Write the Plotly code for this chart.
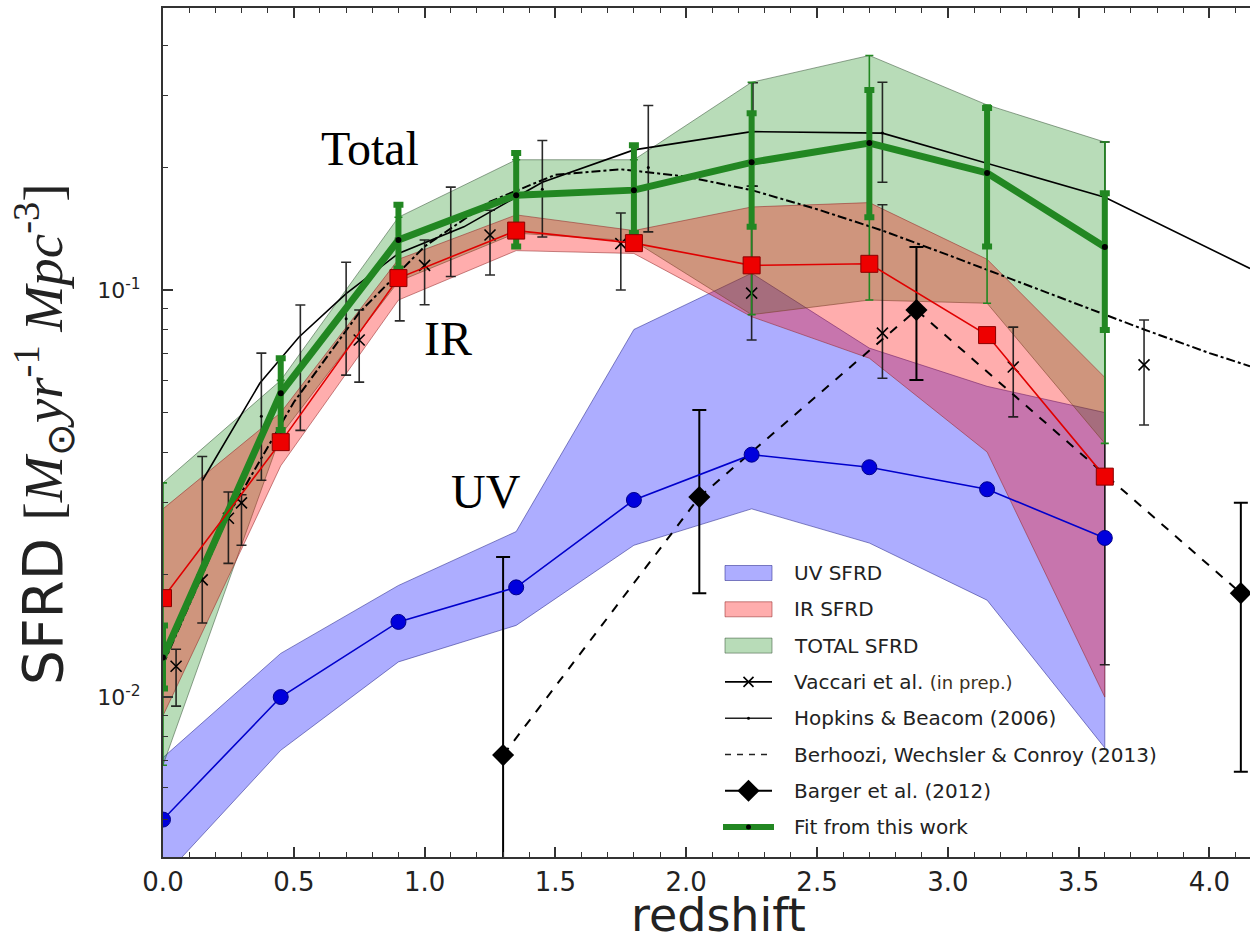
import math
import plotly.graph_objects as go

# ---------------- binned SFRD estimates (Msun / yr / Mpc^3) ----------------
z_bins = [0.0, 0.45, 0.9, 1.35, 1.8, 2.25, 2.7, 3.15, 3.6]

uv_sfrd = [0.0050, 0.0100, 0.0153, 0.0186, 0.0305, 0.0394, 0.0367, 0.0324, 0.0246]
uv_upper = [0.0071, 0.0128, 0.0188, 0.0255, 0.080, 0.110, 0.072, 0.058, 0.050]
uv_lower = [0.0036, 0.0074, 0.0122, 0.0150, 0.0236, 0.0290, 0.0239, 0.0173, 0.0075]

ir_sfrd = [0.0175, 0.0423, 0.107, 0.140, 0.1304, 0.115, 0.116, 0.0775, 0.0348]
ir_upper = [0.029, 0.050, 0.119, 0.153, 0.140, 0.160, 0.164, 0.119, 0.061]
ir_lower = [0.0090, 0.037, 0.0945, 0.125, 0.123, 0.086, 0.068, 0.040, 0.010]

total_upper = [0.0336, 0.060, 0.151, 0.209, 0.209, 0.324, 0.377, 0.285, 0.231]
total_lower = [0.0068, 0.044, 0.105, 0.138, 0.132, 0.087, 0.0945, 0.0928, 0.042]

fit_sfrd = [0.0125, 0.0558, 0.1327, 0.171, 0.176, 0.206, 0.2297, 0.194, 0.1276]
fit_lo = [0.0105, 0.0453, 0.113, 0.128, 0.138, 0.143, 0.151, 0.128, 0.0798]
fit_hi = [0.0150, 0.068, 0.162, 0.217, 0.227, 0.272, 0.310, 0.280, 0.173]

# ---------------- literature compilations ----------------
vac_z = [0.05, 0.15, 0.25, 0.30, 0.75, 1.00, 1.25, 1.75, 2.25, 2.75, 3.25, 3.75]
vac_v = [0.0119, 0.0194, 0.0275, 0.0300, 0.0754, 0.115, 0.1365, 0.130, 0.0983, 0.0784, 0.0647, 0.0655]
vac_lo = [0.0095, 0.0152, 0.0213, 0.0236, 0.0594, 0.092, 0.1089, 0.100, 0.0754, 0.0607, 0.0488, 0.0466]
vac_hi = [0.0131, 0.0390, 0.0319, 0.0314, 0.0893, 0.1327, 0.157, 0.1546, 0.180, 0.162, 0.0811, 0.0844]

hop_line_z = [0.15, 0.37, 0.52, 0.70, 0.90, 1.15, 1.45, 1.80, 2.25, 2.75, 3.60, 4.155]
hop_line_v = [0.034, 0.059, 0.0767, 0.098, 0.123, 0.143, 0.184, 0.221, 0.245, 0.243, 0.169, 0.113]

hop_pt_z = [0.376, 0.525, 0.70, 0.905, 1.10, 1.45, 1.855, 2.255, 2.75, 3.60]
hop_pt_v = [0.049, 0.065, 0.085, 0.106, 0.139, 0.177, 0.200, 0.245, 0.243, 0.169]
hop_pt_lo = [0.0341, 0.0452, 0.0618, 0.084, 0.108, 0.135, 0.139, 0.180, 0.184, 0.012]
hop_pt_hi = [0.070, 0.0919, 0.117, 0.134, 0.179, 0.233, 0.284, 0.323, 0.324, 0.231]

beh_z = [0.0, 0.25, 0.5, 0.75, 1.0, 1.25, 1.5, 1.75, 2.0, 2.25, 2.5, 2.75,
         3.0, 3.25, 3.5, 3.75, 4.0, 4.155]
beh_v = [0.012, 0.028, 0.053, 0.088, 0.128, 0.165, 0.192, 0.198, 0.190, 0.176,
         0.158, 0.140, 0.122, 0.106, 0.092, 0.080, 0.070, 0.065]

bar_z = [1.30, 2.05, 2.88, 4.12]
bar_v = [0.0072, 0.031, 0.0893, 0.018]
bar_lo = [0.0010, 0.018, 0.0601, 0.00655]
bar_hi = [0.0221, 0.0507, 0.1275, 0.030]

# ---------------- axes ----------------
x_ticks = [0.0, 0.5, 1.0, 1.5, 2.0, 2.5, 3.0, 3.5, 4.0]
x_tick_text = ["0.0", "0.5", "1.0", "1.5", "2.0", "2.5", "3.0", "3.5", "4.0"]
y_ticks = [0.01, 0.1]
y_tick_text = ["10<sup>-2</sup>", "10<sup>-1</sup>"]
y_minor = [m * d for d in (0.001, 0.01, 0.1) for m in range(2, 10)]

legend_labels = [
    "UV SFRD",
    "IR SFRD",
    "TOTAL SFRD",
    "Vaccari et al. <span style='font-size:18px;color:#3a3020'>(in prep.)</span>",
    "Hopkins &amp; Beacom (2006)",
    "Berhoozi, Wechsler &amp; Conroy (2013)",
    "Barger et al. (2012)",
    "Fit from this work",
]

# ---------------- styles ----------------
UV_FILL = "rgba(0,0,255,0.32)"
IR_FILL = "rgba(255,0,0,0.32)"
TOT_FILL = "rgba(0,128,0,0.28)"
UV_EDGE = "rgba(40,40,140,0.55)"
IR_EDGE = "rgba(150,40,40,0.55)"
TOT_EDGE = "rgba(60,90,60,0.55)"
FIT_GREEN = "rgb(34,135,34)"
SANS = "DejaVu Sans"
SERIF = "Liberation Serif"

# geometry of the figure (pixels)
W, H = 1250, 944
PLOT_L, PLOT_R, PLOT_T, PLOT_B = 163, 1250, 8, 857


def above(vals, hi):
    return [h - v for v, h in zip(vals, hi)]


def below(vals, lo):
    return [v - l for v, l in zip(vals, lo)]


def band(x, lo, hi, fill, edge):
    return go.Scatter(
        x=list(x) + list(x)[::-1], y=list(hi) + list(lo)[::-1],
        mode="lines", fill="toself", fillcolor=fill,
        line=dict(color=edge, width=1), hoverinfo="skip", showlegend=False)


def paper_x(px):
    return (px - PLOT_L) / (PLOT_R - PLOT_L)


def paper_y(py):
    return (PLOT_B - py) / (PLOT_B - PLOT_T)


fig = go.Figure()

# confidence bands: blue under green, red on top
fig.add_trace(band(z_bins, uv_lower, uv_upper, UV_FILL, UV_EDGE))
fig.add_trace(band(z_bins, total_lower, total_upper, TOT_FILL, TOT_EDGE))
fig.add_trace(band(z_bins, ir_lower, ir_upper, IR_FILL, IR_EDGE))

# Behroozi et al. model curve
fig.add_trace(go.Scatter(x=beh_z, y=beh_v, mode="lines",
                         line=dict(color="black", width=2, dash="dashdot"),
                         showlegend=False))
# Hopkins & Beacom fit and compilation points
fig.add_trace(go.Scatter(x=hop_line_z, y=hop_line_v, mode="lines",
                         line=dict(color="black", width=1.6), showlegend=False))
fig.add_trace(go.Scatter(
    x=hop_pt_z, y=hop_pt_v, mode="markers",
    marker=dict(size=3, color="black"),
    error_y=dict(type="data", symmetric=False,
                 array=above(hop_pt_v, hop_pt_hi),
                 arrayminus=below(hop_pt_v, hop_pt_lo),
                 color="rgba(20,20,20,0.9)", thickness=1.6, width=5),
    showlegend=False))
# Vaccari et al.
fig.add_trace(go.Scatter(
    x=vac_z, y=vac_v, mode="markers",
    marker=dict(symbol="x-thin", size=11, line=dict(color="black", width=1.6)),
    error_y=dict(type="data", symmetric=False,
                 array=above(vac_v, vac_hi), arrayminus=below(vac_v, vac_lo),
                 color="rgba(20,20,20,0.9)", thickness=1.6, width=5),
    showlegend=False))
# Barger et al.
fig.add_trace(go.Scatter(
    x=bar_z, y=bar_v, mode="lines+markers",
    line=dict(color="black", width=2, dash="dash"),
    marker=dict(symbol="diamond", size=17, color="black"),
    error_y=dict(type="data", symmetric=False,
                 array=above(bar_v, bar_hi), arrayminus=below(bar_v, bar_lo),
                 color="black", thickness=2, width=7),
    showlegend=False))

# fit: thin bars spanning the total band, thick bars for the fit itself
fig.add_trace(go.Scatter(
    x=z_bins, y=fit_sfrd, mode="markers",
    marker=dict(size=1, color="rgba(0,0,0,0)"),
    error_y=dict(type="data", symmetric=False,
                 array=above(fit_sfrd, total_upper),
                 arrayminus=below(fit_sfrd, total_lower),
                 color=FIT_GREEN, thickness=1.6, width=4),
    showlegend=False))
fig.add_trace(go.Scatter(
    x=z_bins, y=fit_sfrd, mode="lines+markers",
    line=dict(color=FIT_GREEN, width=7),
    marker=dict(size=6, color="black"),
    error_y=dict(type="data", symmetric=False,
                 array=above(fit_sfrd, fit_hi), arrayminus=below(fit_sfrd, fit_lo),
                 color=FIT_GREEN, thickness=6, width=5),
    showlegend=False))

# UV and IR estimates
fig.add_trace(go.Scatter(x=z_bins, y=uv_sfrd, mode="lines+markers",
                         line=dict(color="#0000cc", width=1.6),
                         marker=dict(symbol="circle", size=15, color="#0000dd",
                                     line=dict(color="#00008a", width=1)),
                         showlegend=False))
fig.add_trace(go.Scatter(x=z_bins, y=ir_sfrd, mode="lines+markers",
                         line=dict(color="#e00000", width=1.6),
                         marker=dict(symbol="square", size=17, color="#ee0000",
                                     line=dict(color="#8a0000", width=1)),
                         showlegend=False))

# ---------------- legend (drawn on a pixel-unit overlay) ----------------
LEG_X0, LEG_X1, LEG_TX = 725, 772, 792
LEG_Y0, LEG_DY, SW_H = 573, 36.3, 15
LX = dict(xaxis="x2", yaxis="y2", hoverinfo="skip", showlegend=False)
leg_rows = [LEG_Y0 + i * LEG_DY for i in range(len(legend_labels))]
xm = (LEG_X0 + LEG_X1) / 2

for yy, fill, edge in zip(leg_rows[:3], [UV_FILL, IR_FILL, TOT_FILL],
                          [UV_EDGE, IR_EDGE, TOT_EDGE]):
    fig.add_trace(go.Scatter(
        x=[LEG_X0, LEG_X1, LEG_X1, LEG_X0, LEG_X0],
        y=[yy - SW_H / 2, yy - SW_H / 2, yy + SW_H / 2, yy + SW_H / 2, yy - SW_H / 2],
        mode="lines", fill="toself", fillcolor=fill,
        line=dict(color=edge, width=1), **LX))

fig.add_trace(go.Scatter(x=[LEG_X0, LEG_X1], y=[leg_rows[3]] * 2, mode="lines",
                         line=dict(color="black", width=1.6), **LX))
fig.add_trace(go.Scatter(x=[xm], y=[leg_rows[3]], mode="markers",
                         marker=dict(symbol="x-thin", size=10,
                                     line=dict(color="black", width=1.6)), **LX))
fig.add_trace(go.Scatter(x=[LEG_X0, LEG_X1], y=[leg_rows[4]] * 2, mode="lines",
                         line=dict(color="#222", width=1.6), **LX))
fig.add_trace(go.Scatter(x=[xm], y=[leg_rows[4]], mode="markers",
                         marker=dict(size=3, color="black"), **LX))
fig.add_trace(go.Scatter(x=[LEG_X0, LEG_X1], y=[leg_rows[5]] * 2, mode="lines",
                         line=dict(color="#222", width=1.6, dash="6px,6px"), **LX))
fig.add_trace(go.Scatter(x=[LEG_X0, LEG_X1], y=[leg_rows[6]] * 2, mode="lines",
                         line=dict(color="black", width=2), **LX))
fig.add_trace(go.Scatter(x=[xm], y=[leg_rows[6]], mode="markers",
                         marker=dict(symbol="diamond", size=17, color="black"), **LX))
fig.add_trace(go.Scatter(x=[LEG_X0 - 2, LEG_X1 + 2], y=[leg_rows[7]] * 2, mode="lines",
                         line=dict(color=FIT_GREEN, width=6), **LX))
fig.add_trace(go.Scatter(x=[xm], y=[leg_rows[7]], mode="markers",
                         marker=dict(size=5, color="black"), **LX))

annotations = []
for yy, lab in zip(leg_rows, legend_labels):
    annotations.append(dict(
        x=LEG_TX, y=yy, xref="x2", yref="y2", text=lab, showarrow=False,
        xanchor="left", yanchor="middle",
        font=dict(family=SANS, size=20, color="#222")))

# component labels
for txt, zx, yv in [("Total", 0.79, 0.223), ("IR", 1.09, 0.076), ("UV", 1.235, 0.032)]:
    annotations.append(dict(x=zx, y=math.log10(yv), xref="x", yref="y",
                            text=txt, showarrow=False,
                            font=dict(family=SERIF, size=48, color="black")))

# axis titles
annotations.append(dict(
    x=paper_x(718), y=paper_y(944),
    xref="paper", yref="paper", text="redshift", showarrow=False,
    xanchor="center", yanchor="bottom",
    font=dict(family=SANS, size=46, color="#222")))
annotations.append(dict(
    x=paper_x(43), y=paper_y(434),
    xref="paper", yref="paper", textangle=-90, showarrow=False,
    xanchor="center", yanchor="middle",
    text=("SFRD <span style='font-family:Liberation Serif'>[<i>M</i><sub>\u2299</sub>"
          "<i>yr</i><sup>-1</sup> <i>Mpc</i><sup>-3</sup>]</span>"),
    font=dict(family=SANS, size=55, color="#222")))

axis_common = dict(showgrid=False, zeroline=False, showline=True,
                   linecolor="#333", linewidth=2, ticks="inside", ticklen=10,
                   tickwidth=1.5, tickcolor="#333")

fig.update_layout(
    width=W, height=H,
    margin=dict(l=PLOT_L, r=W - PLOT_R, t=PLOT_T, b=H - PLOT_B),
    paper_bgcolor="white", plot_bgcolor="white",
    showlegend=False,
    xaxis=dict(range=[0, 4.155], tickvals=x_ticks, ticktext=x_tick_text,
               mirror="ticks", ticklabelstandoff=1,
               tickfont=dict(family=SANS, size=26, color="#222"),
               minor=dict(ticks="inside", ticklen=5, tickwidth=1.2,
                          tickcolor="#333", dtick=0.1, tick0=0),
               **axis_common),
    yaxis=dict(type="log", range=[-2.393, -0.307], tickvals=y_ticks,
               ticktext=y_tick_text, mirror=False, ticklabelstandoff=16,
               tickfont=dict(family=SANS, size=22, color="#222"),
               minor=dict(ticks="inside", ticklen=5, tickwidth=1.2,
                          tickcolor="#333", tickmode="array", tickvals=y_minor),
               **axis_common),
    xaxis2=dict(range=[PLOT_L, PLOT_R], overlaying="x", visible=False,
                anchor="y2", fixedrange=True),
    yaxis2=dict(range=[PLOT_B, PLOT_T], overlaying="y", visible=False,
                anchor="x2", fixedrange=True),
    annotations=annotations,
)

fig.write_html("out.html")
